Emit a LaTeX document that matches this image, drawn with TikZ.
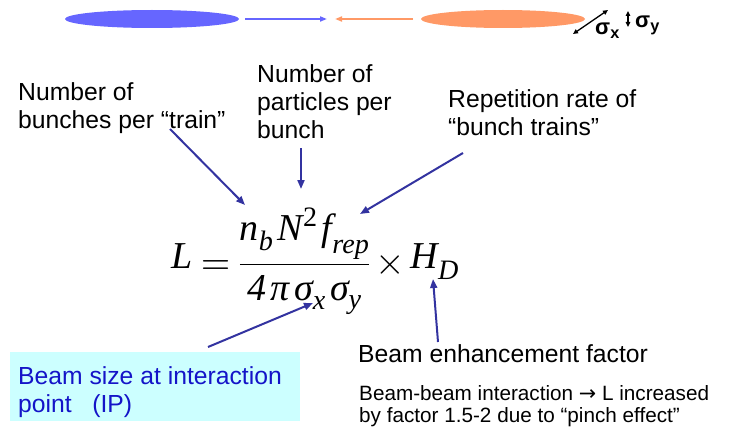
\documentclass[tikz,border=0pt]{standalone}
\usepackage{amsmath}
\usepackage{mathptmx}
\usepackage[no-math]{fontspec}
\setmainfont{Liberation Sans}
\newfontfamily\tnr{Liberation Serif}
\newfontfamily\djv{DejaVu Sans}
\newcommand\ti[1]{\text{\tnr\itshape #1}}
\newcommand\tisub[2]{\text{\tnr\itshape\raisebox{#1}{#2}}}
\usetikzlibrary{arrows.meta}
\definecolor{beamblue}{RGB}{102,102,255}
\definecolor{beamorange}{RGB}{255,153,102}
\definecolor{arrowblue}{RGB}{51,51,160}
\definecolor{labelblue}{RGB}{20,20,200}
\definecolor{boxcyan}{RGB}{204,255,255}
\begin{document}
\begin{tikzpicture}[x=1pt,y=-1pt,
  lbl/.style={font=\fontsize{24.7}{28}\selectfont, align=left, anchor=north west, inner sep=0pt},
  smalllbl/.style={font=\fontsize{20.7}{22}\selectfont, align=left, anchor=north west, inner sep=0pt},
  ptr/.style={draw=arrowblue, line width=2pt, -{Triangle[length=9pt,width=7pt]}},
  beamarrow/.style={line width=2pt, -{Triangle[length=7pt,width=5pt]}},
  sizearrow/.style={line width=1.3pt, {Triangle[length=5pt,width=4.5pt]}-{Triangle[length=5pt,width=4.5pt]}},
  sigmalbl/.style={font=\fontsize{22}{24}\selectfont\bfseries, inner sep=0pt, anchor=base west}]
\useasboundingbox (0,0) rectangle (729,428);
% top beams
\fill[beamblue] (152,19) ellipse [x radius=87, y radius=9];
\fill[beamorange] (503,19) ellipse [x radius=82, y radius=9];
\coordinate (ba1) at (245,19); \coordinate (ba2) at (327,19);
\coordinate (oa1) at (413,19); \coordinate (oa2) at (335,19);
\draw[beamarrow, draw=beamblue, fill=beamblue] (ba1) -- (ba2);
\draw[beamarrow, draw=beamorange, fill=beamorange] (oa1) -- (oa2);
\coordinate (sx1) at (573,34); \coordinate (sx2) at (608,10);
\draw[sizearrow] (sx1) -- (sx2);
\coordinate (sy1) at (628,11); \coordinate (sy2) at (628,27);
\draw[sizearrow] (sy1) -- (sy2);
\node[sigmalbl] (sigx) at (595,35) {σ\textsubscript{x}};
\node[sigmalbl] (sigy) at (635,28) {σ\textsubscript{y}};
% labels
\node[lbl] (nb) at (18,82) {Number of\\bunches per “train”};
\node[lbl] (np) at (257,64) {Number of\\particles per\\bunch};
\node[lbl] (rep) at (448,89) {Repetition rate of\\“bunch trains”};
% formula
\node[inner sep=0pt, anchor=base west, font=\fontsize{38}{40}\selectfont] (eq) at (171,268)
  {$\displaystyle \ti{L}\raisebox{-6pt}{$\displaystyle {}= \frac{\ti{n}_{\tisub{-4pt}{b}}\,\ti{N}^{\text{\tnr 2}}\,\ti{f}_{\tisub{-3pt}{rep}}}{\ti{4}\,\ti{π}\,\ti{σ}_{\tisub{-4pt}{x}}\,\ti{σ}_{\tisub{-3pt}{y}}}\times{}$}\ti{H}_{\tisub{-6pt}{D}}$};
% bottom
\node[fill=boxcyan, anchor=north west, minimum width=290pt, minimum height=69pt, inner sep=0pt] (ipbox) at (10,352) {};
\node[lbl, text=labelblue] (ip) at (18,366) {Beam size at interaction\\point\ \ \ (IP)};
\node[lbl] (hd) at (358,344) {Beam enhancement factor};
\node[smalllbl] (bb) at (359,385) {Beam-beam interaction {\djv →} L increased\\by factor 1.5-2 due to “pinch effect”};
% pointers
\coordinate (p1s) at (170,129); \coordinate (p1e) at (245,205);
\coordinate (p2s) at (301,148); \coordinate (p2e) at (301,189);
\coordinate (p3s) at (463,153); \coordinate (p3e) at (360,214);
\coordinate (p4s) at (208,347); \coordinate (p4e) at (313,303);
\coordinate (p5s) at (438,342); \coordinate (p5e) at (433,279);
\draw[ptr] (p1s) -- (p1e);
\draw[ptr] (p2s) -- (p2e);
\draw[ptr] (p3s) -- (p3e);
\draw[ptr] (p4s) -- (p4e);
\draw[ptr] (p5s) -- (p5e);
\end{tikzpicture}
\end{document}
